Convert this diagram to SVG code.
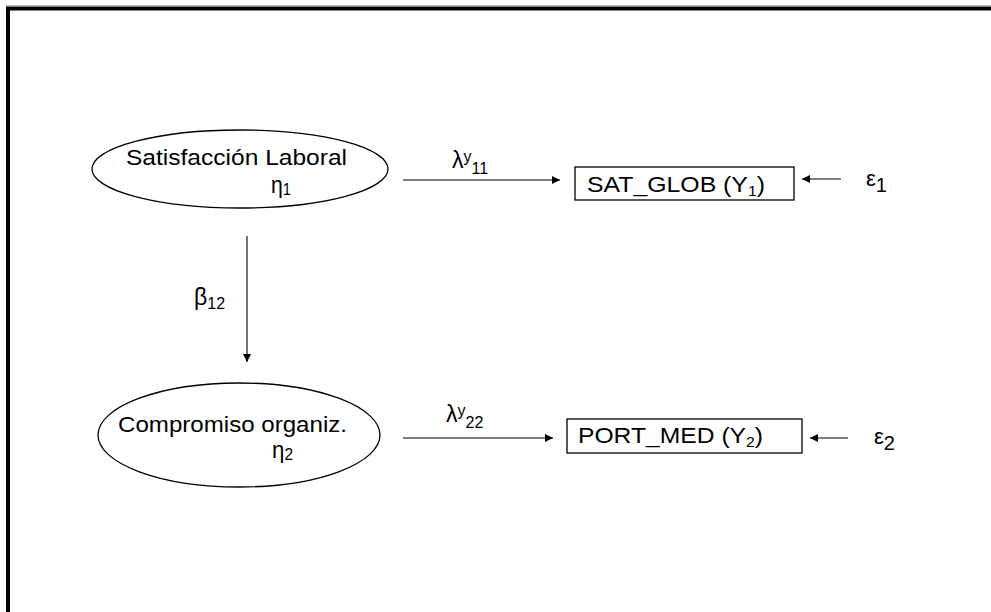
<svg xmlns="http://www.w3.org/2000/svg" width="991" height="612" viewBox="0 0 991 612">
<style>
.t{font-family:"Liberation Sans",Arial,sans-serif;font-size:22px;fill:#000}
.g{font-family:"Liberation Sans",Arial,sans-serif;font-size:23px;fill:#000}
.node{fill:#fff;stroke:#000;stroke-width:1.3}
.edge{stroke:#000;stroke-width:1.1;fill:none}
</style>
<defs>
<marker id="ah" viewBox="0 0 10 10" refX="10" refY="5" markerWidth="9" markerHeight="8" markerUnits="userSpaceOnUse" orient="auto">
<path d="M0,0L10,5L0,10z" fill="#000"/>
</marker>
</defs>
<rect x="0" y="0" width="991" height="612" fill="#fff"/>
<line x1="6" y1="5.5" x2="991" y2="5.5" stroke="#bbb" stroke-width="1"/>
<rect x="8" y="8.5" width="1000" height="620" fill="none" stroke="#000" stroke-width="4"/>

<g id="eta1">
<ellipse class="node" cx="240" cy="169" rx="148" ry="39"/>
<text class="t" x="126" y="165" textLength="221" lengthAdjust="spacingAndGlyphs">Satisfacción Laboral</text>
<text class="g" x="271" y="193" textLength="20" lengthAdjust="spacingAndGlyphs">η<tspan font-size="16" dy="2">1</tspan></text>
</g>

<g id="eta2">
<ellipse class="node" cx="239" cy="435" rx="141" ry="52"/>
<text class="t" x="118" y="432" textLength="229" lengthAdjust="spacingAndGlyphs">Compromiso organiz.</text>
<text class="g" x="272" y="458" textLength="21" lengthAdjust="spacingAndGlyphs">η<tspan font-size="16" dy="2">2</tspan></text>
</g>

<g id="y1">
<rect class="node" x="575" y="167" width="219" height="33"/>
<text class="t" x="587" y="192" textLength="178" lengthAdjust="spacingAndGlyphs">SAT_GLOB (Y<tspan font-size="14" dy="4">1</tspan><tspan dy="-4">)</tspan></text>
</g>

<g id="y2">
<rect class="node" x="567" y="419" width="235" height="34"/>
<text class="t" x="578" y="443" textLength="185" lengthAdjust="spacingAndGlyphs">PORT_MED (Y<tspan font-size="14" dy="4">2</tspan><tspan dy="-4">)</tspan></text>
</g>

<g id="e1">
<text class="t" x="866" y="186" font-size="27">ε<tspan font-size="20" dy="6">1</tspan></text>
</g>
<g id="e2">
<text class="t" x="874" y="444" font-size="27">ε<tspan font-size="20" dy="6">2</tspan></text>
</g>

<g id="connectors">
<line class="edge" x1="403" y1="180" x2="560" y2="180" marker-end="url(#ah)"/>
<line class="edge" x1="403" y1="438" x2="553" y2="438" marker-end="url(#ah)"/>
<line class="edge" x1="841" y1="179" x2="802" y2="179" marker-end="url(#ah)"/>
<line class="edge" x1="848" y1="438" x2="810" y2="438" marker-end="url(#ah)"/>
<line class="edge" x1="247" y1="236" x2="247" y2="362" marker-end="url(#ah)"/>
<text class="g" x="452" y="168">λ<tspan font-size="16" dy="-6">y</tspan><tspan font-size="16" dy="12">11</tspan></text>
<text class="g" x="446" y="422">λ<tspan font-size="16" dy="-6">y</tspan><tspan font-size="16" dy="12">22</tspan></text>
<text class="g" x="194" y="305">β<tspan font-size="16" dy="4">12</tspan></text>
</g>
</svg>
